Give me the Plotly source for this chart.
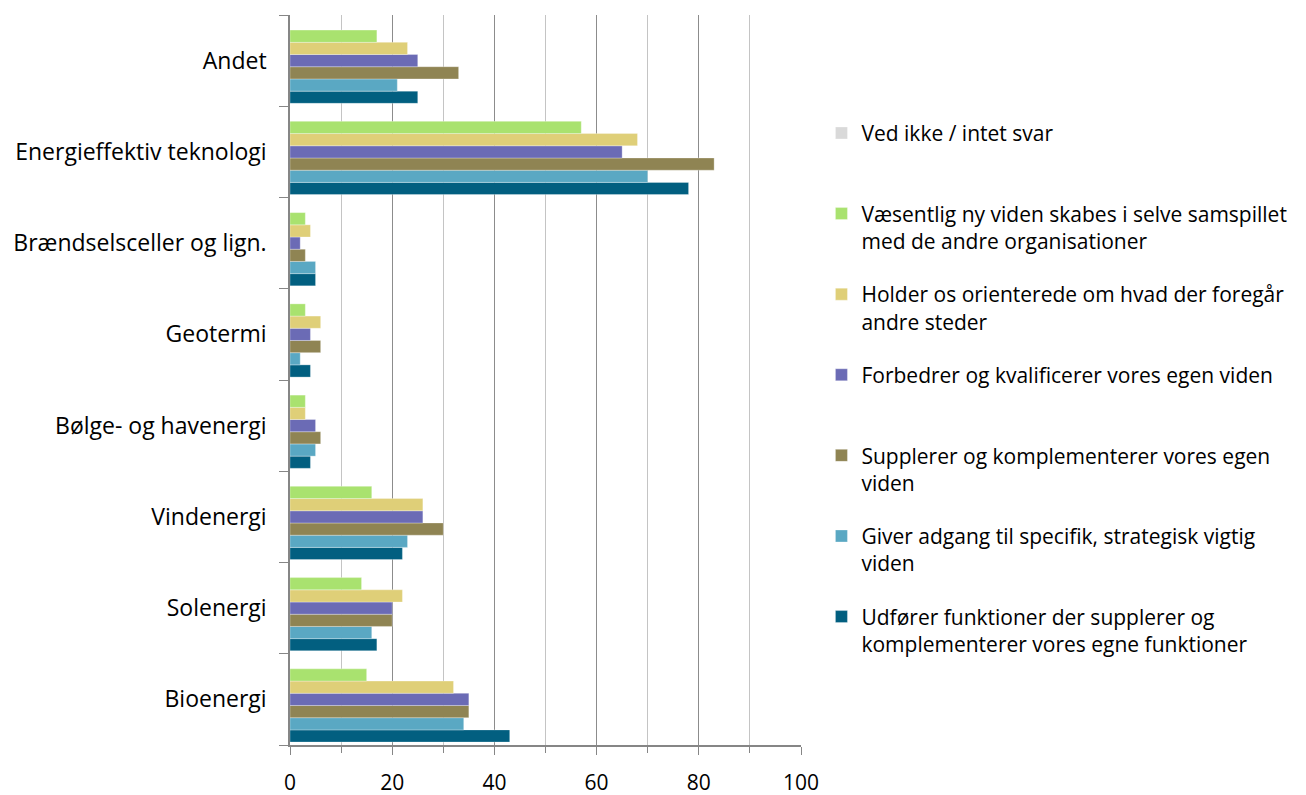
import plotly.graph_objects as go

categories = ["Bioenergi", "Solenergi", "Vindenergi", "Bølge- og havenergi",
              "Geotermi", "Brændselsceller og lign.", "Energieffektiv teknologi", "Andet"]

series_names = [
    "Udfører funktioner der supplerer og<br>komplementerer vores egne funktioner",
    "Giver adgang til specifik, strategisk vigtig<br>viden",
    "Supplerer og komplementerer vores egen<br>viden",
    "Forbedrer og kvalificerer vores egen viden<br> ",
    "Holder os orienterede om hvad der foregår<br>andre steder",
    "Væsentlig ny viden skabes i selve samspillet<br>med de andre organisationer",
    "Ved ikke / intet svar<br> ",
]

udforer = [43, 17, 22, 4, 4, 5, 78, 25]
giver = [34, 16, 23, 5, 2, 5, 70, 21]
supplerer = [35, 20, 30, 6, 6, 3, 83, 33]
forbedrer = [35, 20, 26, 5, 4, 2, 65, 25]
holder = [32, 22, 26, 3, 6, 4, 68, 23]
vaesentlig = [15, 14, 16, 3, 3, 3, 57, 17]
ved_ikke = [0, 0, 0, 0, 0, 0, 0, 0]

values = [udforer, giver, supplerer, forbedrer, holder, vaesentlig, ved_ikke]
colors = ["#025f80", "#5aa8c3", "#8f8453", "#6b6bb5", "#dfcf78", "#a9e26f", "#d9d9d9"]

fig = go.Figure()
n = len(series_names)
for i, (name, vals, col) in enumerate(zip(series_names, values, colors)):
    fig.add_trace(go.Bar(
        y=categories, x=vals, name=name, orientation="h",
        marker=dict(color=col, line=dict(color="rgba(255,255,255,0.6)", width=0.5)),
        legendgroup=f"g{i}", legendrank=n - i,
    ))

font_family = "'Open Sans', Lato, sans-serif"

# page body has an 8px default margin, so the figure is sized/offset to compensate
fig.update_layout(
    width=1298, height=787,
    margin=dict(l=282, r=505, t=7, b=50),
    paper_bgcolor="white", plot_bgcolor="white",
    barmode="group", bargap=0.064, bargroupgap=0,
    font=dict(family=font_family, size=22, color="#000000"),
    legend=dict(
        x=1.04, xanchor="left", y=0.866, yanchor="top",
        traceorder="grouped", valign="top",
        font=dict(family=font_family, size=21, color="#000000"),
        tracegroupgap=23, itemwidth=30,
    ),
    showlegend=True,
)

fig.update_xaxes(
    range=[0, 100], dtick=20, tick0=0,
    showgrid=True, gridcolor="#8c8c8c", gridwidth=1.3,
    minor=dict(dtick=10, showgrid=True, gridcolor="#c4c4c4", gridwidth=1.3,
               ticks="outside", ticklen=6, tickcolor="#868686"),
    ticks="outside", ticklen=8, tickcolor="#868686",
    showline=True, linecolor="#868686", linewidth=1.5,
    zeroline=False, automargin=False,
    tickfont=dict(size=21), ticklabelstandoff=10,
)
fig.update_yaxes(
    type="category", tickson="boundaries",
    ticks="outside", ticklen=9, tickcolor="#868686",
    showline=True, linecolor="#868686", linewidth=1.5,
    showgrid=False, automargin=False,
    tickfont=dict(size=23), ticklabelstandoff=17,
)

fig.write_html("out.html")
